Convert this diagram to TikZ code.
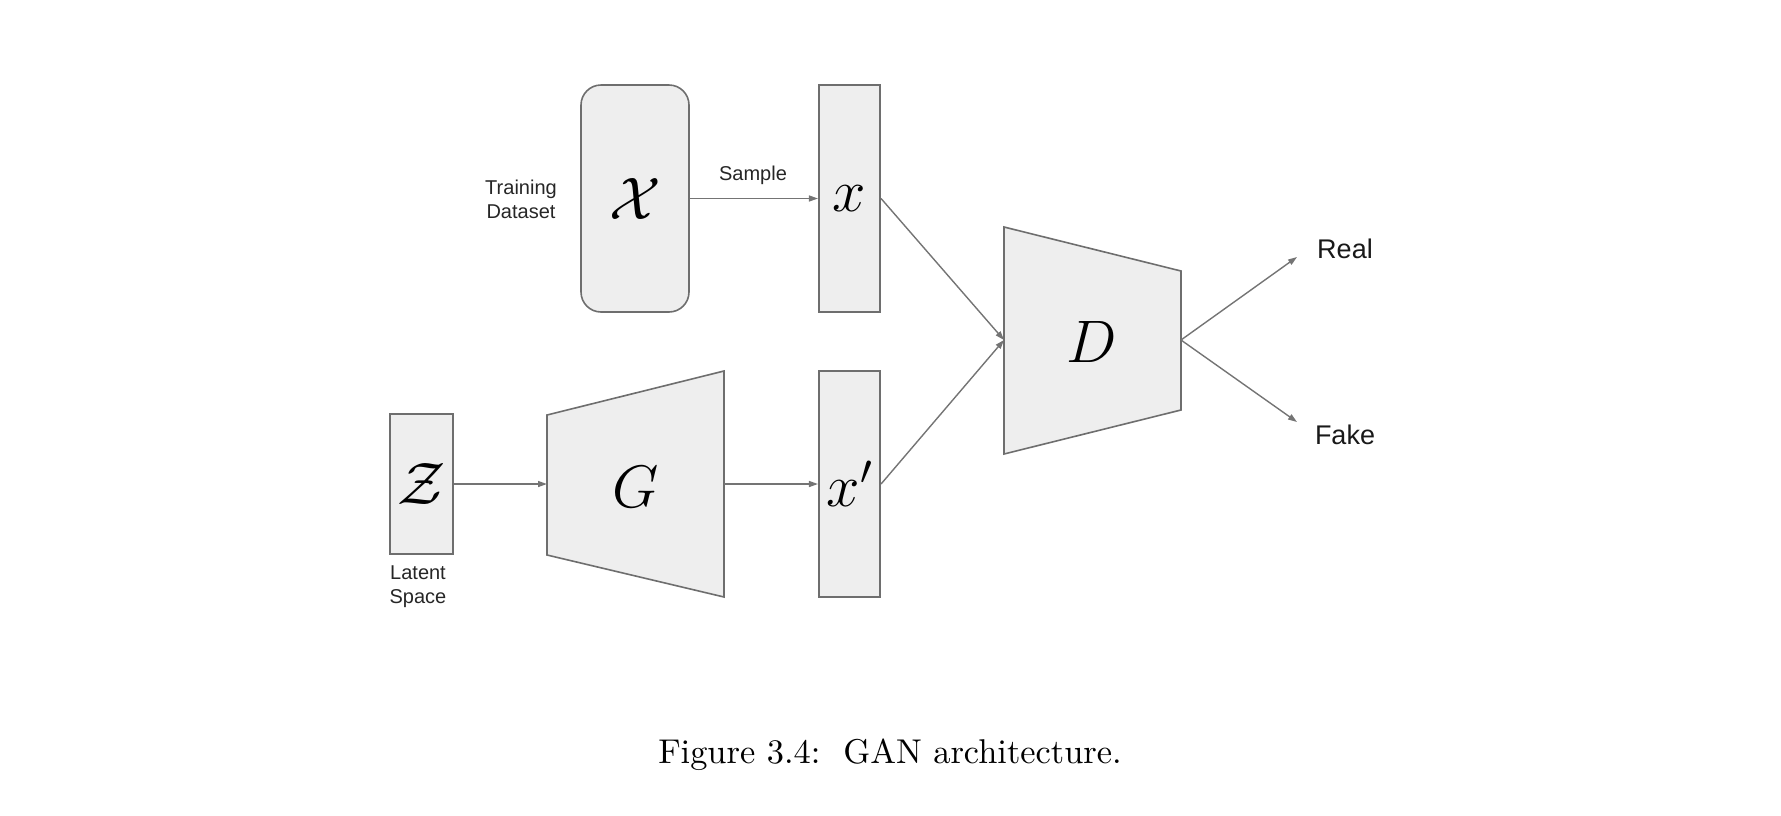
\RequirePackage{fix-cm}
\documentclass[tikz,border=0pt]{standalone}
\usepackage{fontspec}
\newfontfamily\labelfont{Liberation Sans}
\usetikzlibrary{arrows.meta}
\definecolor{boxfill}{HTML}{EEEEEE}
\definecolor{linec}{HTML}{6E6E6E}
\definecolor{arrc}{HTML}{747474}
\begin{document}
\begin{tikzpicture}[x=1pt,y=-1pt,
  blk/.style={draw=linec, fill=boxfill, line width=1.6pt, inner sep=0pt},
  trap/.style={draw=linec, fill=boxfill, line width=1.6pt},
  mathlbl/.style={font=\fontsize{60}{60}\selectfont, inner sep=0pt},
  lbl/.style={font=\labelfont\fontsize{20}{24}\selectfont, align=center, inner sep=0pt, text=black!85},
  biglbl/.style={font=\labelfont\fontsize{27}{30}\selectfont, inner sep=0pt, text=black!90},
  conn/.style={draw=arrc, line width=1.4pt, -{Triangle[length=9pt,width=6pt]}}
]
\useasboundingbox (0,0) rectangle (1781,815);

% boxes
\node[blk, rounded corners=20pt, minimum width=108pt, minimum height=227pt, mathlbl] (X) at (635,198.5) {$\mathcal{X}$};
\node[blk, minimum width=61.5pt, minimum height=227pt, mathlbl] (x) at (849.5,198.5) {$x$};
\node[blk, minimum width=61.5pt, minimum height=226pt, mathlbl] (xp) at (849.5,484) {$x'$};
\node[blk, minimum width=62.5pt, minimum height=140pt, mathlbl] (Z) at (421.5,484) {$\mathcal{Z}$};

% G trapezoid
\coordinate (G1) at (547,415);
\coordinate (G2) at (724,371);
\coordinate (G3) at (724,597);
\coordinate (G4) at (547,555);
\draw[trap] (G1) -- (G2) -- (G3) -- (G4) -- cycle;
\node[mathlbl] (G) at (635.5,487) {$G$};
\coordinate (Gin) at (547,484);
\coordinate (Gout) at (724,484);

% D trapezoid
\coordinate (D1) at (1004,227);
\coordinate (D2) at (1181,271);
\coordinate (D3) at (1181,410);
\coordinate (D4) at (1004,454);
\draw[trap] (D1) -- (D2) -- (D3) -- (D4) -- cycle;
\node[mathlbl] (D) at (1092,342) {$D$};
\coordinate (Din) at (1004,340);
\coordinate (Dout) at (1181,340);

% output ends
\coordinate (realtip) at (1297,257);
\coordinate (faketip) at (1297,422);

% labels
\node[lbl] (train) at (521,199) {Training\\Dataset};
\node[lbl] (sample) at (753,175) {Sample};
\node[lbl] (latent) at (418,587) {Latent\\Space};
\node[biglbl] (real) at (1345,249) {Real};
\node[biglbl] (fake) at (1345,435) {Fake};

% connectors
\draw[conn] (X.east) -- (x.west);
\draw[conn] (Z.east) -- (Gin);
\draw[conn] (Gout) -- (xp.west);
\draw[conn] (x.east) -- (Din);
\draw[conn] (xp.east) -- (Din);
\draw[conn] (Dout) -- (realtip);
\draw[conn] (Dout) -- (faketip);

% caption
\node[font=\fontsize{10}{12}\selectfont, inner sep=0pt, scale=3.44, transform shape] (cap) at (890,755) {Figure 3.4:\ \ GAN architecture.};
\end{tikzpicture}
\end{document}
